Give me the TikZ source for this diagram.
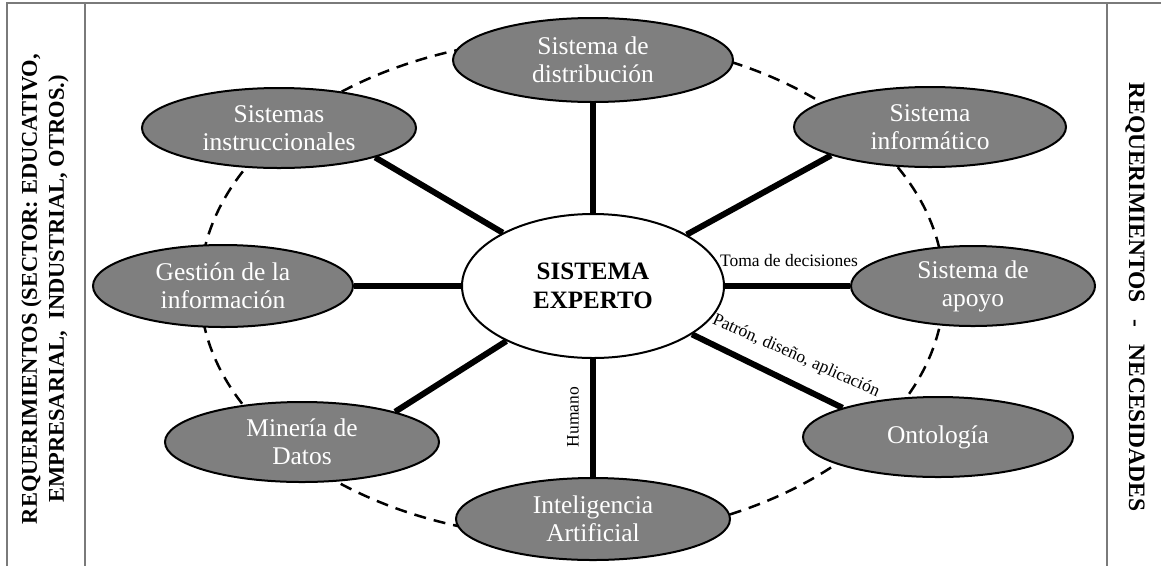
\documentclass[tikz,border=0pt]{standalone}
\usepackage{fontspec}
\setmainfont{Liberation Serif}
\usetikzlibrary{shapes.geometric,backgrounds}
\definecolor{nodegray}{HTML}{7F7F7F}
\definecolor{rulegray}{HTML}{7A7A7A}
\begin{document}
\begin{tikzpicture}[x=1pt,y=-1pt,
  outer/.style={ellipse, draw=black, line width=2pt, fill=nodegray, text=white,
    font=\fontsize{25.5}{28}\selectfont, align=center, inner sep=0pt},
  core/.style={ellipse, draw=black, line width=2pt, fill=white, text=black,
    font=\bfseries\fontsize{25}{29}\selectfont, align=center, inner sep=0pt,
    minimum width=262pt, minimum height=144pt},
  conn/.style={line width=6pt, black},
  ring/.style={line width=2.5pt, dash pattern=on 12pt off 8pt},
  tablerule/.style={rulegray, line width=1.5pt},
  lbl/.style={font=\fontsize{17.5}{20}\selectfont, inner sep=0pt},
  side/.style={font=\bfseries\fontsize{22.5}{27}\selectfont, align=center, inner sep=0pt}
]
\useasboundingbox (0,0) rectangle (1161,566);

% table frame
\draw[tablerule] (7,566) -- (7,3) -- (1161,3);
\draw[tablerule] (85,3) -- (85,566);
\draw[tablerule] (1107,3) -- (1107,566);

% side texts
\node[side, rotate=90] (leftlbl) at (45,289)
  {REQUERIMIENTOS (SECTOR: EDUCATIVO,\\ EMPRESARIAL,\ \ INDUSTRIAL, OTROS.)};
\node[side, font=\bfseries\fontsize{23.5}{27}\selectfont, rotate=-90] (rightlbl) at (1135,297)
  {REQUERIMIENTOS\hspace{17pt}-\hspace{17pt}NECESIDADES};

% nodes
\node[core] (sx) at (593,286) {SISTEMA\\EXPERTO};
\node[outer, minimum width=280pt, minimum height=84pt] (dist) at (593,60) {Sistema de\\distribución};
\node[outer, minimum width=274pt, minimum height=80pt] (instr) at (279,128) {Sistemas\\instruccionales};
\node[outer, minimum width=272pt, minimum height=80pt] (info) at (930,127) {Sistema\\informático};
\node[outer, minimum width=260pt, minimum height=82pt] (gest) at (223,286) {Gestión de la\\información};
\node[outer, minimum width=244pt, minimum height=80pt] (apoyo) at (973,286) {Sistema de\\apoyo};
\node[outer, minimum width=274pt, minimum height=80pt] (mine) at (302,442) {Minería de\\Datos};
\node[outer, minimum width=270pt, minimum height=80pt] (onto) at (938,437) {Ontología};
\node[outer, minimum width=274pt, minimum height=82pt] (ia) at (593,519) {Inteligencia\\Artificial};

% connector labels
\node[lbl] (toma) at (789,261) {Toma de decisiones};
\node[lbl, rotate=-24] (patron) at (796,356) {Patrón, diseño, aplicación};
\node[lbl, rotate=90] (humano) at (573,417) {Humano};

\begin{scope}[on background layer]
  \draw[ring] (572,288) ellipse [x radius=372pt, y radius=250pt];
  \draw[conn] (sx) -- (dist);
  \draw[conn] (sx) -- (instr.-17);
  \draw[conn] (sx) -- (info.196);
  \draw[conn] (sx) -- (gest);
  \draw[conn] (sx) -- (apoyo);
  \draw[conn] (sx) -- (mine.18);
  \draw[conn] (sx) -- (onto.163);
  \draw[conn] (sx) -- (ia);
\end{scope}
\end{tikzpicture}
\end{document}
